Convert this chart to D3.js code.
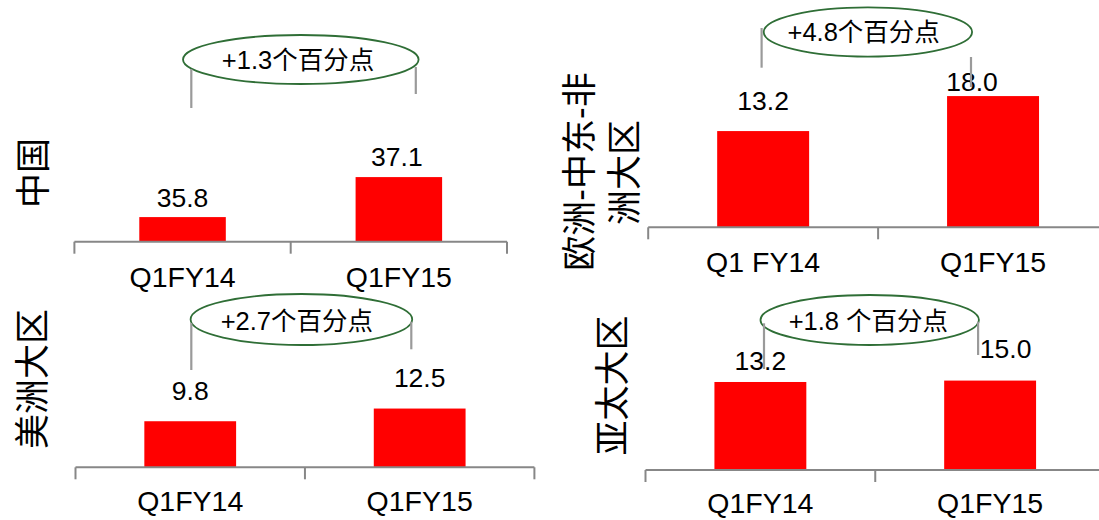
<!DOCTYPE html>
<html>
<head>
<meta charset="utf-8">
<script src="https://cdn.jsdelivr.net/npm/d3@7"></script>
<style>
  html, body { margin: 0; padding: 0; background: #fff; }
  svg { display: block; }
  text { font-family: "Liberation Sans", Arial, "Noto Sans CJK SC", sans-serif; }
</style>
</head>
<body>
<svg id="chart" width="1099" height="520"></svg>
<script>
// ---------------- DATA ----------------
const regions = ["中国", "欧洲-中东-非洲大区", "美洲大区", "亚太大区"];
const categoriesChina = ["Q1FY14", "Q1FY15"];
const categoriesEMEA = ["Q1 FY14", "Q1FY15"];
const categoriesAmericas = ["Q1FY14", "Q1FY15"];
const categoriesAPAC = ["Q1FY14", "Q1FY15"];
const valuesChina = [35.8, 37.1];
const valuesEMEA = [13.2, 18.0];
const valuesAmericas = [9.8, 12.5];
const valuesAPAC = [13.2, 15.0];
const changeLabels = ["+1.3个百分点", "+4.8个百分点", "+2.7个百分点", "+1.8 个百分点"];

// ---------------- LAYOUT ----------------
const layouts = [
  { // China
    region: regions[0], lineBreak: null,
    cats: categoriesChina, vals: valuesChina,
    xRange: [74.4, 507], lineEnd: 507, endTick: true,
    axisY: 241.7, yDomain: [35, 38], yTop: 149.4, catDy: 45,
    labelPos: [[33, 173]],
    valueOffsets: [[0, -10.5], [-2, -11]],
    ellipse: [300.8, 59.5, 117.8, 24.5], noteXY: [298, 60],
    brackets: [[191.3, 69, 108], [415.8, 67, 94]]
  },
  { // EMEA
    region: regions[1], lineBreak: 7,
    cats: categoriesEMEA, vals: valuesEMEA,
    xRange: [648.2, 1108], lineEnd: 1099, endTick: false,
    axisY: 227.3, yDomain: [0, 20], yTop: 81.5, catDy: 45,
    labelPos: [[579.5, 171.5], [624.5, 172.5]],
    valueOffsets: [[0, -21], [-21, -5]],
    ellipse: [867.9, 32, 104.2, 24.7], noteXY: [863.7, 32],
    brackets: [[761.6, 28, 67.7], [971, 57, 87]]
  },
  { // Americas
    region: regions[2], lineBreak: null,
    cats: categoriesAmericas, vals: valuesAmericas,
    xRange: [75.5, 534.4], lineEnd: 534.4, endTick: true,
    axisY: 467.3, yDomain: [0, 20], yTop: 373.3, catDy: 44,
    labelPos: [[32.1, 379]],
    valueOffsets: [[0, -21.5], [0, -21.5]],
    ellipse: [301.4, 319.5, 110.8, 25.5], noteXY: [296.8, 321],
    brackets: [[191.3, 323, 370], [411.3, 321.7, 349.3]]
  },
  { // APAC
    region: regions[3], lineBreak: null,
    cats: categoriesAPAC, vals: valuesAPAC,
    xRange: [645.5, 1105], lineEnd: 1099, endTick: false,
    axisY: 470, yDomain: [-100, 20], yTop: 376.7, catDy: 42.5,
    labelPos: [[612.1, 385.5]],
    valueOffsets: [[0, -12], [15.5, -23]],
    ellipse: [869.7, 320, 109.2, 25], noteXY: [868.4, 321],
    brackets: [[764, 323.3, 369], [978.1, 321.7, 355]]
  }
];

const RED = "#FF0000", AXIS = "#878787", BRACKET = "#9a9a9a", GREEN = "#2F6E36";
const svg = d3.select("#chart");
const fmt = d3.format(".1f");

layouts.forEach((L, i) => {
  const g = svg.append("g");
  const x = d3.scaleBand().domain(L.cats).range(L.xRange).paddingInner(0).paddingOuter(0);
  const y = d3.scaleLinear().domain(L.yDomain).range([L.axisY, L.yTop]);
  const bw = x.bandwidth() * 0.4;

  // bars
  g.selectAll("rect.bar").data(L.vals).enter().append("rect")
    .attr("class", "bar")
    .attr("x", (d, j) => x(L.cats[j]) + x.bandwidth() / 2 - bw / 2)
    .attr("width", bw)
    .attr("y", d => y(d))
    .attr("height", d => L.axisY - y(d))
    .attr("fill", RED);

  // axis line + ticks
  g.append("line")
    .attr("x1", L.xRange[0]).attr("x2", L.lineEnd)
    .attr("y1", L.axisY).attr("y2", L.axisY)
    .attr("stroke", AXIS).attr("stroke-width", 2);
  const tickXs = L.cats.map(c => x(c));
  if (L.endTick) tickXs.push(L.xRange[1]);
  g.selectAll("line.tick").data(tickXs).enter().append("line")
    .attr("class", "tick")
    .attr("x1", d => d).attr("x2", d => d)
    .attr("y1", L.axisY).attr("y2", L.axisY + 12)
    .attr("stroke", AXIS).attr("stroke-width", 2);

  // category labels
  g.selectAll("text.cat").data(L.cats).enter().append("text")
    .attr("class", "cat")
    .attr("x", d => x(d) + x.bandwidth() / 2)
    .attr("y", L.axisY + L.catDy)
    .attr("text-anchor", "middle")
    .attr("font-size", 28.5)
    .attr("fill", "#000")
    .text(d => d);

  // value labels
  g.selectAll("text.val").data(L.vals).enter().append("text")
    .attr("class", "val")
    .attr("x", (d, j) => x(L.cats[j]) + x.bandwidth() / 2 + L.valueOffsets[j][0])
    .attr("y", d => y(d))
    .attr("dy", (d, j) => L.valueOffsets[j][1])
    .attr("text-anchor", "middle")
    .attr("font-size", 26.5)
    .attr("fill", "#000")
    .text(d => fmt(d));

  // region label (rotated), optionally split into two lines
  const lines = L.lineBreak ? [L.region.slice(0, L.lineBreak), L.region.slice(L.lineBreak)] : [L.region];
  lines.forEach((t, k) => {
    const [cx, cy] = L.labelPos[k];
    g.append("text")
      .attr("transform", `translate(${cx},${cy}) rotate(-90)`)
      .attr("text-anchor", "middle")
      .attr("dominant-baseline", "central")
      .attr("font-size", 35)
      .attr("fill", "#000")
      .text(t);
  });

  // annotation ellipse
  const [ecx, ecy, erx, ery] = L.ellipse;
  g.append("ellipse")
    .attr("cx", ecx).attr("cy", ecy).attr("rx", erx).attr("ry", ery)
    .attr("fill", "none").attr("stroke", GREEN).attr("stroke-width", 1.8);
  g.append("text")
    .attr("x", L.noteXY[0]).attr("y", L.noteXY[1])
    .attr("text-anchor", "middle")
    .attr("dominant-baseline", "central")
    .attr("font-size", 25.5)
    .attr("fill", "#000")
    .text(changeLabels[i]);

  // brackets
  g.selectAll("line.br").data(L.brackets).enter().append("line")
    .attr("class", "br")
    .attr("x1", d => d[0]).attr("x2", d => d[0])
    .attr("y1", d => d[1]).attr("y2", d => d[2])
    .attr("stroke", BRACKET).attr("stroke-width", 2.2);
});
</script>
</body>
</html>
